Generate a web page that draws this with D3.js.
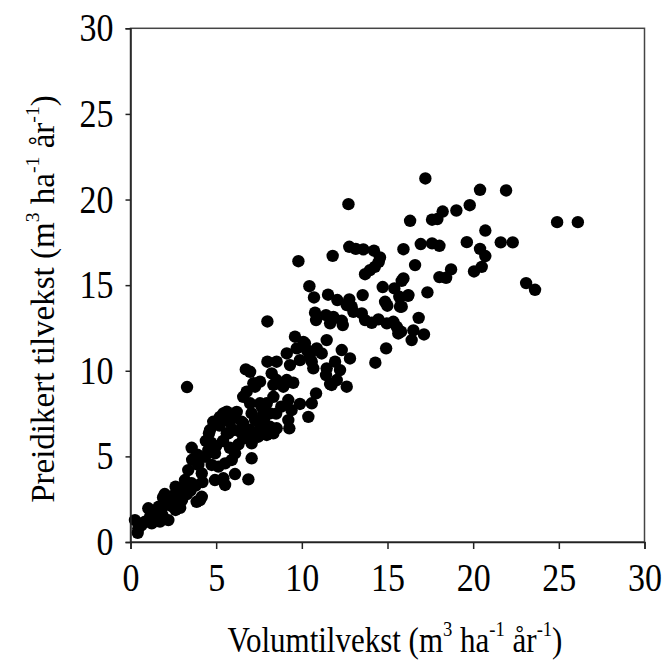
<!DOCTYPE html>
<html><head><meta charset="utf-8">
<script src="https://cdn.jsdelivr.net/npm/d3@7"></script>
<style>body{margin:0;background:#fff}</style>
</head><body>
<svg id="chart" width="666" height="666"></svg>
<script>
const xTicks = [0,5,10,15,20,25,30];
const yTicks = [0,5,10,15,20,25,30];
const obsX = [17.21,20.40,21.92,19.80,19.02,18.22,17.91,17.60,16.32,24.90,26.11,20.71,16.94,17.60,18.03,19.63,21.61,22.31,15.93,20.40,20.71,20.50,20.05,18.71,18.03,18.42,16.61,15.93,15.83,23.09,23.61,17.33,16.20,15.83,16.82,16.51,17.13,16.41,15.79,
12.72,12.77,13.15,13.59,14.21,14.56,14.49,14.26,13.98,13.69,11.80,9.80,
10.44,10.71,11.53,12.07,12.77,12.91,13.01,12.62,13.55,14.72,15.40,16.22,15.69,15.73,14.86,14.99,
10.77,10.83,11.41,11.65,11.84,12.33,12.39,13.50,13.69,14.08,14.47,14.96,15.34,15.54,15.63,
14.92,14.29,7.99,9.60,10.18,11.45,10.87,12.33,12.81,9.12,9.70,9.89,10.58,11.16,11.94,12.23,12.62,7.99,8.53,7.17,7.56,8.34,8.92,9.50,8.34,9.21,9.89,10.58,10.83,11.65,11.41,10.38,9.21,7.56,7.75,7.36,6.98,
10.09,10.29,10.47,9.31,10.67,11.45,6.73,12.04,11.74,8.24,8.53,8.83,9.12,7.27,6.78,6.58,6.98,7.66,7.95,8.14,7.56,8.14,8.53,9.27,5.62,5.42,6.00,5.22,4.83,4.64,6.58,6.98,6.39,6.00,5.62,7.17,6.58,7.95,8.34,
3.57,4.58,7.07,7.27,6.49,5.71,6.68,7.46,7.07,7.07,6.88,6.10,5.52,5.42,4.93,4.74,4.35,3.96,4.16,5.13,5.52,5.91,6.10,4.93,4.54,4.06,3.86,3.37,3.18,3.57,2.82,2.53,2.24,2.63,3.01,2.63,2.04,1.65,1.85,1.43,1.14,1.04,0.85,0.46,0.26,0.65,1.24,1.72,2.21,0.42,4.16,3.30,
5.0,5.4,5.8,6.3,6.6,7.6,7.8,8.5,8.8,9.4,6.2,5.8,5.2,4.4,3.9,3.6,4.7,
2.0,2.4,2.9,3.3,3.5,1.8,1.5,2.7,3.1,3.8,4.2,1.9];
const predY = [21.23,20.57,20.53,19.67,19.36,19.30,18.86,18.82,18.76,18.68,18.68,18.19,17.40,17.44,17.30,17.51,17.50,17.50,17.10,17.12,16.70,16.07,15.80,15.92,15.47,15.43,16.17,15.39,15.25,15.12,14.73,14.58,14.38,13.74,13.09,12.36,12.12,11.79,12.28,
19.73,17.24,17.12,17.09,17.01,16.62,16.36,16.07,15.88,15.64,16.71,16.40,
14.94,14.28,14.44,14.13,14.17,13.74,13.44,13.84,14.42,14.89,14.81,14.42,14.32,13.74,14.03,13.80,
13.39,12.96,13.25,12.77,13.15,12.92,12.67,13.35,12.96,12.80,13.00,12.77,12.86,12.57,12.18,
11.31,10.47,12.88,11.99,11.60,11.79,11.31,11.21,10.72,11.01,11.31,10.62,10.53,11.01,10.53,10.04,9.07,10.53,10.53,9.27,9.36,9.17,9.07,9.30,8.48,8.29,8.06,8.10,8.68,9.22,9.75,7.31,7.12,8.10,7.51,7.12,9.94,
11.69,11.21,10.92,10.33,10.14,10.14,10.08,9.46,9.17,9.85,9.46,9.26,9.46,9.07,8.78,8.48,8.10,7.90,8.10,7.51,6.93,6.73,6.64,6.64,7.61,7.51,7.31,7.31,7.02,6.54,6.93,6.54,6.44,6.54,6.35,6.15,6.05,6.25,6.35,
5.50,6.35,7.51,7.12,7.02,6.35,6.35,6.15,5.76,4.89,3.66,3.97,3.33,3.72,3.62,4.50,4.98,4.50,4.01,4.40,4.59,4.79,5.18,5.18,5.37,2.45,2.35,4.20,3.62,3.43,3.04,2.74,2.45,3.23,2.45,1.87,2.26,2.06,1.58,1.68,1.48,1.97,1.19,0.80,1.28,0.99,1.09,1.19,1.28,0.54,2.64,9.05,
5.6,5.9,5.5,5.7,6.6,6.6,7.2,7.5,7.9,7.7,7.6,7.0,6.8,5.9,5.1,4.8,5.8,
2.8,2.1,2.0,2.8,3.0,1.9,1.3,2.4,3.2,3.3,3.5,2.6];

const svg = d3.select("#chart");
const L = 130.5, R = 644.5, T = 28.3, B = 542;
const x = d3.scaleLinear().domain([0,30]).range([L,R]);
const y = d3.scaleLinear().domain([0,30]).range([B,T]);
const font = "'Liberation Serif','Times New Roman',serif";
const ink = "#000";
const stretch = 1.15;

svg.append("rect").attr("x",L).attr("y",T).attr("width",R-L).attr("height",B-T)
  .attr("fill","none").attr("stroke","#444").attr("stroke-width",1.5);

svg.append("g").selectAll("circle").data(obsX.map((v,i)=>[v,predY[i]])).join("circle")
  .attr("cx",d=>x(d[0])).attr("cy",d=>y(d[1])).attr("r",6.2).attr("fill",ink);

const xa = svg.append("g").attr("transform",`translate(0,${B})`)
  .call(d3.axisBottom(x).tickValues(xTicks).tickSize(7).tickPadding(14).tickFormat(d3.format("d")));
const ya = svg.append("g").attr("transform",`translate(${L},0)`)
  .call(d3.axisLeft(y).tickValues(yTicks).tickSize(5).tickPadding(12).tickFormat(d3.format("d")));
[xa,ya].forEach(g=>{
  g.attr("font-family",font).attr("font-size",34);
  g.select(".domain").attr("stroke","#222").attr("stroke-width",1.5);
  g.selectAll(".tick line").attr("stroke","#222").attr("stroke-width",1.5);
  g.selectAll(".tick text").attr("font-family",font).attr("font-size",34).attr("fill",ink);
});
xa.selectAll(".tick text").attr("y",0).attr("transform",`translate(0,21) scale(1,${stretch})`);
ya.selectAll(".tick text").attr("transform",`scale(1,${stretch})`);

function title(t, parts){
  parts.forEach(p=>{
    const ts = t.append("tspan").text(p[0]);
    if(p[1]==="sup"){ ts.attr("font-size","0.6em").attr("baseline-shift","75%"); }
  });
}
const xt = svg.append("text").attr("transform",`translate(395,652) scale(1,${stretch})`).attr("text-anchor","middle")
  .attr("font-family",font).attr("font-size",31).attr("fill",ink);
title(xt,[["Volumtilvekst (m"],["3","sup"],[" ha"],["-1","sup"],[" år"],["-1","sup"],[")"]]);
const yt = svg.append("text").attr("transform","translate(54,299) rotate(-90)").attr("text-anchor","middle")
  .attr("font-family",font).attr("font-size",33).attr("fill",ink);
title(yt,[["Preidikert tilvekst (m"],["3","sup"],[" ha"],["-1","sup"],[" år"],["-1","sup"],[")"]]);
</script>
</body></html>
